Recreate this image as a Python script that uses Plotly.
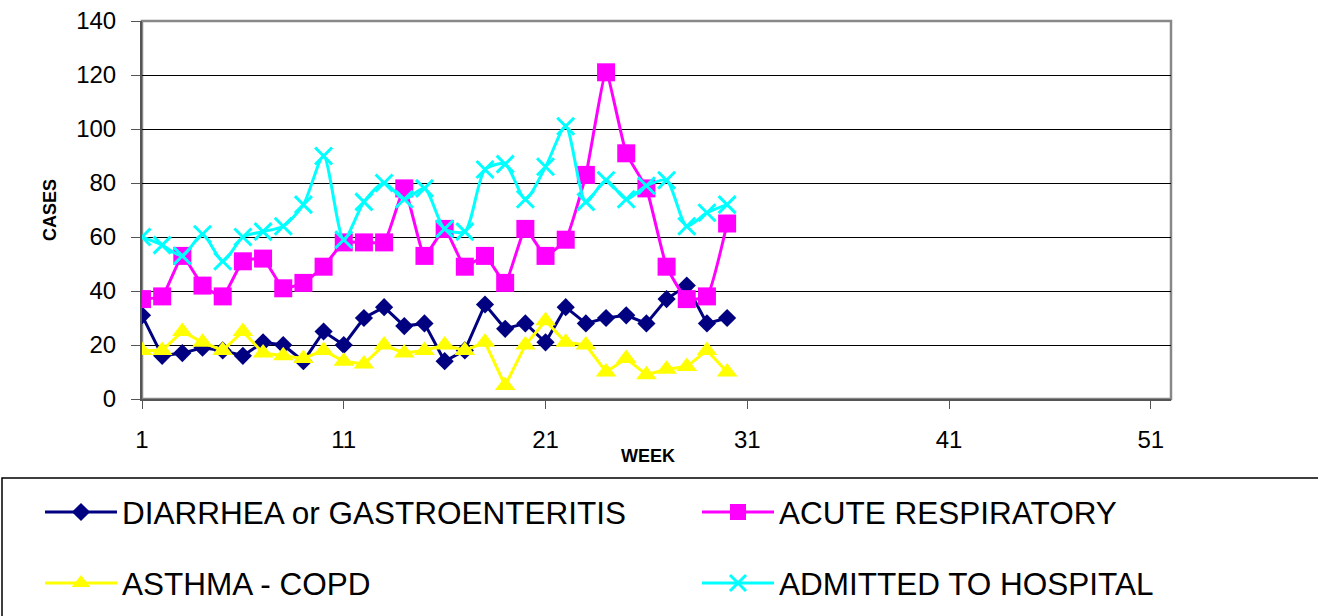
import plotly.graph_objects as go

weeks = list(range(1, 31))
diarrhea = [31, 16, 17, 19, 18, 16, 21, 20, 14, 25, 20, 30, 34, 27, 28, 14, 18, 35, 26, 28, 21, 34, 28, 30, 31, 28, 37, 42, 28, 30]
acute_resp = [37, 38, 53, 42, 38, 51, 52, 41, 43, 49, 58, 58, 58, 78, 53, 63, 49, 53, 43, 63, 53, 59, 83, 121, 91, 78, 49, 37, 38, 65]
asthma = [18, 18, 25, 21, 18, 25, 17, 16, 15, 18, 14, 13, 20, 17, 18, 20, 18, 21, 5, 20, 29, 21, 20, 10, 15, 9, 11, 12, 18, 10]
admitted = [60, 57, 53, 61, 51, 60, 62, 64, 72, 90, 59, 73, 80, 74, 78, 63, 62, 85, 87, 74, 86, 101, 73, 81, 74, 79, 81, 64, 69, 72]

series_names = ["DIARRHEA or GASTROENTERITIS", "ACUTE RESPIRATORY", "ASTHMA - COPD", "ADMITTED TO HOSPITAL"]
x_ticks = [1, 11, 21, 31, 41, 51]
y_ticks = [0, 20, 40, 60, 80, 100, 120, 140]

FONT = "Liberation Sans, Arial, sans-serif"
W, H = 1318, 616

fig = go.Figure()
fig.add_trace(go.Scatter(
    x=weeks, y=diarrhea, name=series_names[0], mode="lines+markers",
    line=dict(color="#000080", width=3),
    marker=dict(symbol="diamond", size=14, color="#000080"),
    legend="legend"))
fig.add_trace(go.Scatter(
    x=weeks, y=acute_resp, name=series_names[1], mode="lines+markers",
    line=dict(color="#FF00FF", width=3, shape="spline", smoothing=0.4),
    marker=dict(symbol="square", size=18, color="#FF00FF"),
    legend="legend2"))
fig.add_trace(go.Scatter(
    x=weeks, y=asthma, name=series_names[2], mode="lines+markers",
    line=dict(color="#FFFF00", width=3),
    marker=dict(symbol="triangle-up", size=18, color="#FFFF00"),
    legend="legend3"))
fig.add_trace(go.Scatter(
    x=weeks, y=admitted, name=series_names[3], mode="lines+markers",
    line=dict(color="#00FFFF", width=3, shape="spline", smoothing=0.7),
    marker=dict(symbol="x-thin", size=17, color="#00FFFF",
                line=dict(color="#00FFFF", width=3)),
    legend="legend4"))

legend_common = dict(
    orientation="h", xref="container", yref="container",
    xanchor="left", yanchor="middle",
    font=dict(family=FONT, size=31.5, color="#000000"),
    bgcolor="rgba(0,0,0,0)", borderwidth=0, itemwidth=72)

col1_x, col2_x = 40, 697
row1_y, row2_y = 512, 583

fig.update_layout(
    width=W, height=H,
    margin=dict(l=142, r=147, t=21, b=217, autoexpand=False),
    paper_bgcolor="white", plot_bgcolor="white",
    font=dict(family=FONT, color="#000000"),
    showlegend=True,
    legend=dict(x=col1_x / W, y=1 - row1_y / H, **legend_common),
    legend2=dict(x=col2_x / W, y=1 - row1_y / H, **legend_common),
    legend3=dict(x=col1_x / W, y=1 - row2_y / H, **legend_common),
    legend4=dict(x=col2_x / W, y=1 - row2_y / H, **legend_common),
    xaxis=dict(
        range=[1, 52], tickmode="array", tickvals=x_ticks,
        ticktext=[str(v) for v in x_ticks],
        showgrid=False, zeroline=False,
        showline=True, linecolor="#555555", linewidth=2,
        ticks="outside", ticklen=8, tickwidth=1, tickcolor="#555555",
        tickfont=dict(family=FONT, size=24, color="#000000"),
        ticklabelstandoff=10, layer="below traces"),
    yaxis=dict(
        range=[0, 140], tickmode="array", tickvals=y_ticks,
        ticktext=[str(v) for v in y_ticks],
        showgrid=True, gridcolor="#000000", gridwidth=1, zeroline=False,
        showline=True, linecolor="#555555", linewidth=2,
        ticks="outside", ticklen=9, tickwidth=1, tickcolor="#555555",
        tickfont=dict(family=FONT, size=24, color="#000000"),
        ticklabelstandoff=10, layer="below traces"),
    shapes=[
        dict(type="rect", xref="paper", yref="paper", x0=0, x1=1, y0=0, y1=1,
             line=dict(color="#888888", width=2.5), layer="below"),
        dict(type="rect", xref="paper", yref="paper",
             x0=(2 - 142) / 1029, x1=1.5, y0=(399 - 478) / 378, y1=-1.0,
             line=dict(color="#000000", width=1.5), layer="below"),
    ],
    annotations=[
        dict(text="<b>CASES</b>", xref="paper", yref="paper",
             x=(50 - 142) / 1029, y=(399 - 210) / 378, textangle=-90,
             showarrow=False, font=dict(family=FONT, size=18, color="#000000"),
             xanchor="center", yanchor="middle"),
        dict(text="<b>WEEK</b>", xref="paper", yref="paper",
             x=(648 - 142) / 1029, y=(399 - 456) / 378,
             showarrow=False, font=dict(family=FONT, size=18, color="#000000"),
             xanchor="center", yanchor="middle"),
    ],
)

fig.write_html(
    "out.html",
    config={"displayModeBar": False},
    post_script="document.body.style.margin='0';document.body.style.overflow='hidden';",
)
